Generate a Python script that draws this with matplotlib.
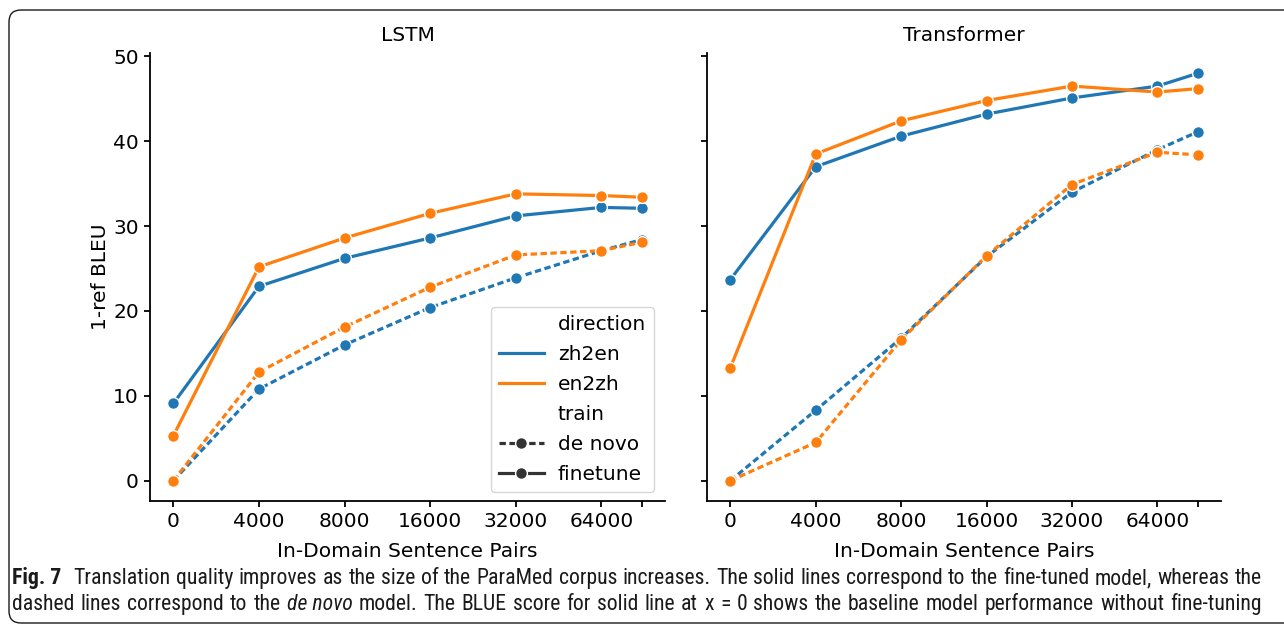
import numpy as np
import matplotlib
matplotlib.use("Agg")
import matplotlib.pyplot as plt
from matplotlib.lines import Line2D
from matplotlib.patches import FancyBboxPatch
from matplotlib.transforms import IdentityTransform

# in-domain sentence pairs (last point is the full corpus, no tick label)
sizes = [0, 4000, 8000, 16000, 32000, 64000, 88700]
tick_labels = ["0", "4000", "8000", "16000", "32000", "64000", ""]

# 1-ref BLEU
lstm_zh2en_finetune = [9.1, 22.9, 26.2, 28.6, 31.2, 32.2, 32.1]
lstm_en2zh_finetune = [5.3, 25.2, 28.6, 31.5, 33.8, 33.6, 33.4]
lstm_zh2en_denovo = [0.0, 10.8, 16.0, 20.4, 23.9, 27.1, 28.4]
lstm_en2zh_denovo = [0.0, 12.8, 18.1, 22.8, 26.6, 27.1, 28.1]

trf_zh2en_finetune = [23.7, 37.0, 40.6, 43.2, 45.1, 46.5, 48.0]
trf_en2zh_finetune = [13.3, 38.5, 42.4, 44.8, 46.5, 45.8, 46.2]
trf_zh2en_denovo = [0.0, 8.3, 16.8, 26.4, 34.0, 39.0, 41.1]
trf_en2zh_denovo = [0.0, 4.5, 16.6, 26.5, 34.9, 38.7, 38.4]

BLUE = "#1f77b4"
ORANGE = "#ff7f0e"
DASH = (2.0, 1.1)
FS = 14.5

plt.rcParams["font.family"] = "DejaVu Sans"

# log2 spacing, 0 sits at the first slot
xpos = np.array([0.0 if n == 0 else np.log2(n / 2000.0) for n in sizes])

W, H = 1284, 624
fig = plt.figure(figsize=(W / 100, H / 100), dpi=100)
top, bot = 53, 501
ax1 = fig.add_axes([150 / W, 1 - bot / H, (665 - 150) / W, (bot - top) / H])
ax2 = fig.add_axes([707 / W, 1 - bot / H, (1221 - 707) / W, (bot - top) / H], sharey=ax1)

mk = dict(marker="o", ms=8.5, mec="white", mew=1.0)


def draw(ax, zh_ft, en_ft, zh_dn, en_dn):
    ax.plot(xpos, zh_dn, color=BLUE, lw=2.3, dashes=DASH, **mk)
    ax.plot(xpos, en_dn, color=ORANGE, lw=2.3, dashes=DASH, **mk)
    ax.plot(xpos, zh_ft, color=BLUE, lw=2.3, **mk)
    ax.plot(xpos, en_ft, color=ORANGE, lw=2.3, **mk)
    ax.set_xticks(xpos)
    ax.set_xticklabels(tick_labels)
    ax.set_xlabel("In-Domain Sentence Pairs", fontsize=FS, labelpad=8)
    for s in ["top", "right"]:
        ax.spines[s].set_visible(False)
    for s in ["left", "bottom"]:
        ax.spines[s].set_linewidth(1.3)
    ax.tick_params(labelsize=FS, length=4.5, width=1.3)


draw(ax1, lstm_zh2en_finetune, lstm_en2zh_finetune, lstm_zh2en_denovo, lstm_en2zh_denovo)
draw(ax2, trf_zh2en_finetune, trf_en2zh_finetune, trf_zh2en_denovo, trf_en2zh_denovo)

ax1.set_title("LSTM", fontsize=FS, pad=8.6)
ax2.set_title("Transformer", fontsize=FS, pad=8.6)
ax1.set_ylabel("1-ref BLEU", fontsize=FS, labelpad=2.5)
ax1.set_yticks([0, 10, 20, 30, 40, 50])
ax2.tick_params(labelleft=False)

# seaborn-like legend with header rows
blank = Line2D([], [], color="none")
handles = [
    blank,
    Line2D([], [], color=BLUE, lw=2.3),
    Line2D([], [], color=ORANGE, lw=2.3),
    blank,
    Line2D([], [], color=".2", lw=2.3, dashes=DASH, **mk),
    Line2D([], [], color=".2", lw=2.3, **mk),
]
labels = ["direction", "zh2en", "en2zh", "train", "de novo", "finetune"]
ax1.legend(handles, labels, loc="lower right", bbox_to_anchor=(654 / W, 1 - 492 / H),
           bbox_transform=fig.transFigure, borderaxespad=0, fontsize=FS,
           handlelength=2.2, handletextpad=0.7, labelspacing=0.55,
           framealpha=0.8, edgecolor="0.8")

# caption, justified like the journal layout
fig.canvas.draw()
renderer = fig.canvas.get_renderer()
cap_family = ["Roboto Condensed", "Open Sans Condensed", "Liberation Sans Narrow", "Open Sans", "DejaVu Sans"]

line1 = [("Fig. 7", "bold", "normal"),
         ("Translation quality improves as the size of the ParaMed corpus increases. The solid lines "
          "correspond to the fine-tuned model, whereas the", "normal", "normal")]
line2 = [("dashed lines correspond to the", "normal", "normal"),
         ("de novo", "normal", "italic"),
         ("model. The BLUE score for solid line at x = 0 shows the baseline model performance "
          "without fine-tuning", "normal", "normal")]


def words(segs):
    out = []
    for txt, wt, st in segs:
        if st == "italic" or wt == "bold":
            out.append((txt, wt, st))
        else:
            out += [(w, wt, st) for w in txt.split(" ")]
    return out


def measure(txt, wt, st, size):
    t = fig.text(0, 0, txt, fontsize=size, fontweight=wt, fontstyle=st, family=cap_family)
    w = t.get_window_extent(renderer).width
    t.remove()
    return w


def put_line(segs, x0, x1, y, size):
    ws = words(segs)
    # bold label gets a wider gap after it
    widths = [measure(*w, size) + (7 if w[1] == "bold" else 0) for w in ws]
    gap = (x1 - x0 - sum(widths)) / (len(ws) - 1)
    x = x0
    for (txt, wt, st), w in zip(ws, widths):
        fig.text(x / W, y / H, txt, fontsize=size, fontweight=wt, fontstyle=st,
                 family=cap_family, va="baseline", color="0.1")
        x += w + gap


# font size so that line 1 fills the width with ordinary spacing
natural = measure(line1[0][0] + "  ", "bold", "normal", 14) + measure(line1[1][0], "normal", "normal", 14)
size = 14 * 1250 / natural
put_line(line1, 12, 1262, H - 584, size)
put_line(line2, 12, 1262, H - 610, size)

# rounded frame around the figure, running off the right edge
frame = FancyBboxPatch((9, 1), 2000, 613, boxstyle="round,pad=0,rounding_size=12",
                       transform=IdentityTransform(), fill=False, lw=1.0, ec="0.1")
fig.patches.append(frame)

fig.savefig("out.png", dpi=100)
